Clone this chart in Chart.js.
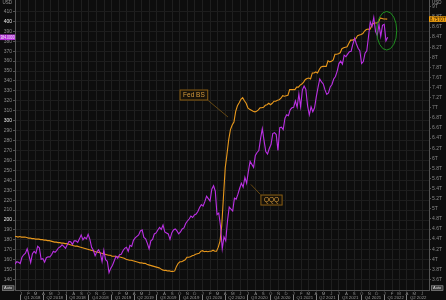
<!DOCTYPE html>
<html><head><meta charset="utf-8">
<script src="https://cdn.jsdelivr.net/npm/chart.js@4.4.0/dist/chart.umd.min.js"></script>
<style>html,body{margin:0;padding:0;background:#0d0d0d;overflow:hidden}#wrap{width:446px;height:300px}</style>
</head><body><div id="wrap"><canvas id="c" width="446" height="300"></canvas></div>
<script>
// ---- data (weekly) ----
const qqqStartDate = '2017-12-08'; // Fridays
const fedStartDate = '2017-12-06'; // Wednesdays
const qqqValues = [
 155.4,158.0,157.5,156.2,
 162.5,165.0,166.5,171.0, 164.5,157.0,166.0,168.5, 166.5,173.5,172.0,160.5,161.0,
 157.5,162.0,163.0,162.8, 165.0,168.5,167.5,169.5, 172.0,173.0,175.0,173.5,171.5,
 175.0,178.5,178.0,175.5, 179.0,179.0,177.5,181.0,185.0, 180.0,182.5,181.0,185.5,
 180.5,172.5,169.5,164.0, 168.0,170.0,166.5,158.0,169.5, 160.0,158.5,147.0,151.5,
 154.5,159.0,163.5,161.5, 165.0,165.5,169.0,171.5, 172.5,168.5,174.5,173.5,179.5,
 182.0,183.5,185.0,189.0, 190.0,182.5,181.0,176.5,171.0, 179.0,180.5,186.0,187.0,
 190.0,192.5,190.5,195.0, 188.0,187.0,186.0,180.5,187.0, 190.0,191.0,189.0,186.0,
 188.0,191.0,192.0,196.5, 199.0,201.0,204.0,202.5,205.0, 206.0,208.5,212.5,215.5,
 214.0,218.5,224.0,221.5,219.0, 231.0,234.5,229.0,205.5, 207.0,194.0,171.0,183.0,
 179.0,199.0,213.0,211.0, 209.0,222.0,221.0,226.0,232.0, 237.0,233.0,243.0,237.0,
 249.0,259.0,256.0,253.0,265.0, 268.0,270.0,282.0,292.0, 280.0,269.0,266.5,272.0,
 276.0,287.0,288.0,286.0,270.0, 293.0,293.5,291.0,302.5, 306.0,305.0,311.0,313.0,313.5,
 320.0,313.5,327.0,314.0, 331.0,335.0,331.5,315.0, 306.0,314.0,309.0,313.0,
 324.0,333.5,342.0,339.0,337.0, 331.0,326.5,328.0,334.0, 336.5,342.0,344.5,350.0,
 357.5,360.0,357.0,366.0,364.5, 367.0,369.5,370.0,377.0, 383.0,377.5,373.0,370.5,
 357.5,359.5,368.0,370.5,385.0, 399.5,395.0,404.0,390.0, 386.0,397.0,385.0,396.0,397.0,
 380.5,384.0
];
const fedValues = [
 4.45,4.45,4.44,4.45,
 4.44,4.44,4.44,4.43,4.42, 4.42,4.41,4.41,4.40, 4.40,4.40,4.39,4.39, 4.38,4.38,4.37,4.37,
 4.36,4.35,4.34,4.34,4.33, 4.33,4.32,4.32,4.31, 4.31,4.30,4.29,4.28, 4.27,4.26,4.26,4.25,4.24,
 4.23,4.22,4.21,4.20, 4.19,4.18,4.17,4.16,4.14, 4.14,4.13,4.12,4.11, 4.10,4.09,4.08,4.08,
 4.06,4.06,4.06,4.05,4.05, 4.04,4.03,4.02,4.00, 3.99,3.98,3.98,3.97, 3.96,3.95,3.94,3.93,
 3.93,3.92,3.92,3.90,3.89, 3.88,3.87,3.86,3.85, 3.84,3.83,3.81,3.79,3.78, 3.78,3.77,3.77,3.76,
 3.76,3.77,3.86,3.92, 3.95,3.95,3.97,3.99,4.04, 4.04,4.05,4.07,4.08, 4.10,4.11,4.12,4.16,
 4.17,4.15,4.16,4.15,4.16, 4.16,4.18,4.16,4.16, 4.24,4.36,4.67,5.25, 5.81,6.08,6.37,6.57,6.66,
 6.72,6.93,7.04,7.10, 7.17,7.20,7.14,7.09, 7.00,6.97,6.95,6.93,6.92, 6.93,6.96,7.00,7.00,
 7.01,7.05,7.06,7.09,7.06, 7.09,7.13,7.13,7.15, 7.16,7.19,7.24,7.23, 7.24,7.25,7.36,7.36,7.36,
 7.36,7.41,7.41,7.45, 7.47,7.51,7.56,7.58, 7.59,7.57,7.69,7.69,7.71, 7.69,7.76,7.81,7.82,
 7.82,7.82,7.93,7.91, 7.92,7.95,8.06,8.06,8.07, 8.09,8.17,8.19,8.20, 8.21,8.28,8.34,8.34,
 8.35,8.37,8.43,8.44,8.45, 8.47,8.52,8.55,8.56, 8.55,8.61,8.67,8.68, 8.68,8.70,8.78,8.77,8.76,
 8.76,8.757
];
const leftTickValues = [140,150,160,170,180,190,200,210,220,230,240,250,260,270,280,290,300,310,320,330,340,350,360,370,380,390,400,410];
const leftMajorTicks = [200,300,400];
const rightTickValues = [3.6,3.8,4.0,4.2,4.4,4.6,4.8,5.0,5.2,5.4,5.6,5.8,6.0,6.2,6.4,6.6,6.8,7.0,7.2,7.4,7.6,7.8,8.0,8.2,8.4,8.6,8.8,9.0];
const monthLetters = ['J','F','M','A','M','J','J','A','S','O','N','D'];
const quarterNames = ['Q1','Q2','Q3','Q4'];
const seriesNames = ['QQQ','Fed BS'];

// ---- helpers ----
const DAY = 86400000, BASE = Date.UTC(2018,0,1);
function dayOf(iso){const [y,m,d]=iso.split('-').map(Number);return (Date.UTC(y,m-1,d)-BASE)/DAY;}
const xMin = -24, xMax = 1640;
const qqqPts = qqqValues.map((v,i)=>({x:dayOf(qqqStartDate)+7*i,y:v}));
const fedPts = fedValues.map((v,i)=>({x:dayOf(fedStartDate)+7*i,y:v}));

const monthTicks = new Map();
for(let m=-1;m<=55;m++){const d=(Date.UTC(2018,m,1)-BASE)/DAY; if(d>=xMin&&d<=xMax) monthTicks.set(d, monthLetters[((m%12)+12)%12]);}
const quarterTicks = new Map(); const boundary = new Set();
for(let q=0;q<19;q++){
  const s=(Date.UTC(2018,3*q,1)-BASE)/DAY, e=(Date.UTC(2018,3*q+3,1)-BASE)/DAY, mid=(s+e)/2;
  if(s>=xMin&&s<=xMax){quarterTicks.set(s,'');boundary.add(s);}
  if(mid>=xMin&&mid<=xMax) quarterTicks.set(mid, quarterNames[q%4]+' '+(2018+Math.floor(q/4)));
}
const FONT = "'Liberation Sans', Arial, sans-serif";
const noPad = s => { s.paddingTop=0; s.paddingBottom=0; s.paddingLeft=0; s.paddingRight=0; };
function fmtT(v){ const r=Math.round(v*10)/10; return (Number.isInteger(r)? r.toFixed(0): r.toFixed(1))+'T'; }

const overlay = {
  id:'overlay',
  beforeDraw(chart){const c=chart.ctx;c.save();c.fillStyle='#0d0d0d';c.fillRect(0,0,chart.width,chart.height);c.restore();},
  afterDraw(chart){
    const c=chart.ctx, {x,y,y2}=chart.scales, ca=chart.chartArea;
    c.save();
    // USD labels
    c.font='4.5px '+FONT; c.fillStyle='#9a9a9a'; c.textBaseline='middle';
    c.textAlign='right'; c.fillText('USD', ca.left-3, 2.5);
    c.textAlign='left'; c.fillText('USD', ca.right+3, 2.5);
    // Auto boxes
    function auto(x0){c.fillStyle='#3a3a3a';c.fillRect(x0,285.5,12,5);c.strokeStyle='#9a9a9a';c.lineWidth=0.6;c.strokeRect(x0+0.5,285.8,11.5,4.6);
      c.fillStyle='#dcdcdc';c.font='4px '+FONT;c.textAlign='center';c.fillText('Auto',x0+6.2,288.3,11);}
    auto(2); auto(ca.right+2);
    // last value boxes
    const lq=qqqValues[qqqValues.length-1], lf=fedValues[fedValues.length-1];
    const yq=y.getPixelForValue(lq), yf=y2.getPixelForValue(lf);
    c.fillStyle='#b22ad8'; c.fillRect(0,yq-2.8,ca.left,5.6);
    c.fillStyle='#f4f4f4'; c.font='4.5px '+FONT; c.textAlign='left'; c.fillText(lq.toFixed(4),0.5,yq+0.2,ca.left-1);
    c.fillStyle='#f0a010'; c.fillRect(ca.right,yf-2.8,chart.width-ca.right,5.6);
    c.fillStyle='#201000'; c.fillText(lf.toFixed(4)+'T',ca.right+1,yf+0.2,chart.width-ca.right-1.5);
    // annotation boxes
    function note(text, cx, cy, lx0, ly0, lx1, ly1){
      c.font='6.5px '+FONT; const tw=c.measureText(text).width, w=tw+7, h=11;
      c.strokeStyle='#7a5514'; c.lineWidth=0.8;
      c.beginPath(); c.moveTo(lx0(cx-w/2,cx+w/2), ly0(cy-h/2,cy+h/2)); c.lineTo(lx1,ly1); c.stroke();
      c.fillStyle='#17120a'; c.fillRect(cx-w/2,cy-h/2,w,h);
      c.lineWidth=1; c.strokeStyle='#8a5f16'; c.strokeRect(cx-w/2+0.5,cy-h/2+0.5,w-1,h-1);
      c.fillStyle='#d69a3c'; c.textAlign='center'; c.textBaseline='middle'; c.fillText(text,cx,cy+0.5);
    }
    note(seriesNames[1], x.getPixelForValue(695), y2.getPixelForValue(7.253), (l,r)=>r, (t,b)=>b, x.getPixelForValue(832), y2.getPixelForValue(6.818));
    note(seriesNames[0], x.getPixelForValue(1007), y.getPixelForValue(220.1), (l,r)=>l, (t,b)=>t, x.getPixelForValue(924), y.getPixelForValue(235.8));
    // green ellipse
    c.strokeStyle='#1f8f1f'; c.lineWidth=1;
    c.beginPath(); c.ellipse(x.getPixelForValue(1470), y.getPixelForValue(390.6), 10, 19.3, 0, 0, Math.PI*2); c.stroke();
    c.restore();
  }
};

new Chart(document.getElementById('c'), {
  type:'line',
  data:{datasets:[
    {label:seriesNames[0], data:qqqPts, yAxisID:'y', borderColor:'#bb30e4', borderWidth:1.1, pointRadius:0, tension:0},
    {label:seriesNames[1], data:fedPts, yAxisID:'y2', borderColor:'#e8981c', borderWidth:1.1, pointRadius:0, tension:0}
  ]},
  options:{
    responsive:false, animation:false, devicePixelRatio:1,
    layout:{padding:0},
    plugins:{legend:{display:false}, tooltip:{enabled:false}},
    scales:{
      x:{type:'linear', position:'bottom', weight:0, min:xMin, max:xMax,
        afterBuildTicks:s=>{s.ticks=[...monthTicks.keys()].map(v=>({value:v}));},
        afterFit:s=>{s.height=5; noPad(s);},
        ticks:{callback:v=>monthTicks.get(v)||'', autoSkip:false, maxRotation:0, minRotation:0, padding:-0.5, font:{size:4.3, family:FONT}, color:'#8a8a8a'},
        grid:{color:'#1f1f1f', tickLength:1.5, tickColor:'#555', lineWidth:1},
        border:{color:'#555'}
      },
      x2:{type:'linear', position:'bottom', weight:1, min:xMin, max:xMax,
        afterBuildTicks:s=>{s.ticks=[...quarterTicks.keys()].sort((a,b)=>a-b).map(v=>({value:v}));},
        afterFit:s=>{s.height=5; noPad(s);},
        ticks:{callback:v=>quarterTicks.get(v)||'', autoSkip:false, maxRotation:0, minRotation:0, padding:-4.6, font:{size:4.3, family:FONT}, color:'#9a9a9a'},
        grid:{drawOnChartArea:false, tickLength:5, color:ctx=>(ctx.tick&&boundary.has(ctx.tick.value))?'#808080':'rgba(0,0,0,0)'},
        border:{display:false}
      },
      y:{type:'linear', position:'left', min:129.51, max:421.55,
        afterBuildTicks:s=>{s.ticks=leftTickValues.map(v=>({value:v}));},
        afterFit:s=>{s.width=15; noPad(s);},
        ticks:{autoSkip:false, padding:1, font:{size:5, family:FONT}, color:ctx=>leftMajorTicks.includes(ctx.tick.value)?'#e8e8e8':'#8a8a8a', callback:v=>String(v)},
        grid:{color:'#1d1d1d', tickLength:2, tickColor:'#555'},
        border:{color:'#555'}
      },
      y2:{type:'linear', position:'right', min:3.392, max:9.135,
        afterBuildTicks:s=>{s.ticks=rightTickValues.map(v=>({value:v}));},
        afterFit:s=>{s.width=17; noPad(s);},
        ticks:{autoSkip:false, padding:1, font:{size:5, family:FONT}, color:'#8a8a8a', callback:v=>fmtT(v)},
        grid:{drawOnChartArea:false, tickLength:2, color:'#555'},
        border:{color:'#555'}
      }
    }
  },
  plugins:[overlay]
});
</script>
</body></html>
